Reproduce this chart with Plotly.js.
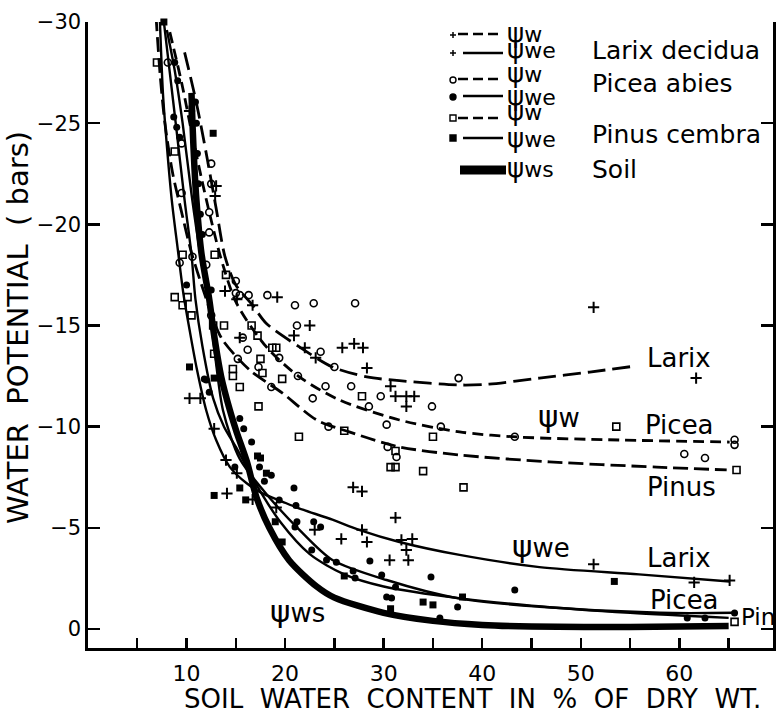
<!DOCTYPE html>
<html>
<head>
<meta charset="utf-8">
<script src="https://cdn.plot.ly/plotly-3.0.1.min.js"></script>
<style>html,body{margin:0;padding:0;background:#fff;}</style>
</head>
<body>
<div id="chart" style="width:777px;height:715px;"></div>
<script>
// ---------------- DATA ----------------
// Fitted curves
const larixWX  = [9.8, 11.0, 12.0, 13.0, 13.9, 15.0, 16.7, 18.1, 21.45, 24.8, 28.3, 31.6, 37.7, 40.7, 45.8, 50.9, 55.6];
const larixWY  = [-28.5, -26.0, -23.5, -20.8, -18.4, -17.0, -16.0, -15.1, -13.94, -12.95, -12.46, -12.27, -12.06, -12.1, -12.4, -12.7, -13.0];
const piceaWX  = [8.3, 9.5, 10.5, 11.5, 12.5, 13.5, 15.07, 18.1, 21.45, 25.5, 31.6, 37.7, 43.5, 53.9, 65.1];
const piceaWY  = [-29.5, -27.0, -24.6, -22.3, -20.2, -18.3, -16.1, -13.94, -12.46, -11.32, -10.33, -9.74, -9.49, -9.34, -9.24];
const pinusWX  = [6.9, 7.3, 7.8, 8.6, 9.4, 10.5, 11.8, 12.7, 13.65, 16.4, 19.7, 23.2, 26.5, 31.6, 37.7, 46.8, 57.7, 64.8];
const pinusWY  = [-30.3, -27.5, -25.0, -22.5, -20.8, -18.6, -16.6, -15.3, -14.29, -12.8, -11.67, -10.33, -9.74, -9.0, -8.6, -8.26, -8.0, -7.86];
const larixWEX = [7.3, 7.6, 7.9, 8.5, 9.1, 9.7, 10.3, 11.0, 12.0, 13.0, 14.4, 16.1, 17.7, 19.7, 21.2, 24.8, 27.5, 31.6, 37.7, 45.8, 55.9, 65.1];
const larixWEY = [-30.0, -26.5, -24.5, -21.2, -18.8, -16.5, -14.8, -12.95, -10.8, -9.34, -8.0, -7.2, -6.7, -6.3, -6.0, -5.4, -4.9, -4.3, -3.66, -3.06, -2.7, -2.35];
const piceaWEX = [8.0, 8.8, 9.6, 10.5, 11.4, 12.2, 12.9, 13.7, 15.4, 18.4, 21.45, 24.8, 30.3, 37.7, 45.8, 58.0, 65.6];
const piceaWEY = [-29.6, -27.6, -25.0, -21.5, -18.5, -16.3, -13.5, -10.8, -8.4, -6.5, -4.9, -3.41, -2.42, -1.5, -1.1, -0.8, -0.8];
const pinusWEX = [7.7, 8.3, 8.9, 9.8, 10.5, 10.9, 11.6, 12.7, 13.8, 15.0, 17.0, 19.5, 22.5, 26.0, 30.0, 38.0, 45.0, 55.0, 65.0];
const pinusWEY = [-30.0, -27.5, -25.0, -21.2, -18.5, -16.3, -14.0, -11.4, -10.0, -9.0, -7.2, -5.3, -3.7, -2.7, -2.1, -1.5, -1.15, -0.8, -0.55];
const soilX    = [10.5, 10.6, 10.8, 11.0, 11.5, 12.3, 12.8, 13.5, 14.4, 15.1, 16.1, 17.1, 18.4, 20.4, 23.2, 25.0, 30.0, 35.0, 40.0, 45.0, 55.0, 65.0];
const soilY    = [-26.5, -25.0, -22.8, -21.2, -18.6, -16.3, -14.5, -12.5, -10.8, -9.7, -8.3, -6.5, -5.0, -3.4, -2.1, -1.55, -0.8, -0.4, -0.2, -0.12, -0.1, -0.15];

// Measured points
const larixPtWX  = [10.3, 13.0, 12.9, 13.9, 15.1, 15.4, 16.7, 19.2, 20.9, 22.0, 22.5, 23.1, 25.8, 27.0, 27.9, 28.3, 30.7, 31.2, 32.3, 33.1, 32.3, 51.3, 61.7];
const larixPtWY  = [-25.6, -21.9, -21.4, -16.7, -16.3, -14.4, -16.0, -16.4, -14.5, -13.9, -15.0, -13.4, -13.9, -14.1, -13.9, -12.9, -12.0, -11.5, -11.5, -11.5, -11.0, -15.9, -12.4];
const larixPtWEX = [10.3, 11.4, 12.8, 14.0, 15.1, 14.1, 16.7, 19.1, 23.0, 25.7, 27.8, 28.3, 31.8, 32.9, 32.3, 30.6, 32.5, 26.9, 27.8, 31.2, 51.3, 61.5, 65.1];
const larixPtWEY = [-11.4, -11.4, -9.9, -8.35, -7.7, -6.7, -6.4, -6.0, -4.9, -4.45, -4.9, -4.3, -4.4, -4.45, -3.9, -3.4, -3.4, -7.0, -6.8, -5.5, -3.2, -2.3, -2.4];
const piceaPtWX  = [8.1, 9.5, 9.5, 12.5, 12.5, 12.3, 12.3, 10.6, 9.3, 12.0, 15.0, 15.0, 15.4, 16.3, 18.2, 21.0, 22.9, 27.1, 21.2, 15.7, 16.2, 19.4, 17.3, 15.2, 23.6, 25.0, 21.3, 18.6, 24.1, 26.7, 22.8, 28.5, 29.7, 34.9, 24.4, 30.3, 35.8, 37.6, 30.4, 31.3, 12.5, 43.3, 65.6, 65.6, 60.5, 62.6];
const piceaPtWY  = [-28.0, -24.0, -21.55, -23.0, -22.0, -20.6, -19.6, -18.4, -18.1, -18.0, -17.2, -16.6, -16.5, -16.5, -16.5, -16.0, -16.1, -16.1, -15.0, -14.4, -13.8, -13.4, -12.95, -13.35, -13.7, -12.95, -12.5, -11.96, -12.0, -12.0, -11.4, -11.0, -11.5, -11.0, -10.0, -10.1, -10.0, -12.4, -9.0, -8.5, -15.5, -9.5, -9.1, -9.35, -8.65, -8.45];
const piceaPtWEX = [8.8, 9.1, 10.9, 8.7, 9.0, 9.3, 11.0, 11.1, 11.2, 11.4, 11.6, 10.0, 12.5, 12.0, 12.3, 11.8, 14.9, 15.4, 15.8, 16.6, 17.4, 17.9, 18.6, 19.4, 20.9, 21.1, 21.2, 21.0, 22.9, 23.6, 22.7, 24.2, 25.2, 26.9, 27.1, 28.6, 29.8, 31.2, 30.3, 30.8, 34.8, 35.7, 37.5, 43.3, 60.8, 62.6, 65.6];
const piceaPtWEY = [-28.0, -27.1, -26.05, -25.3, -24.8, -24.3, -25.0, -23.5, -22.0, -20.5, -19.5, -17.0, -16.75, -12.3, -11.7, -12.36, -8.0, -10.4, -9.9, -9.24, -8.0, -7.3, -7.6, -6.38, -6.97, -6.1, -5.3, -5.04, -5.3, -5.04, -3.9, -3.41, -3.3, -2.87, -2.52, -3.36, -2.67, -2.08, -1.58, -1.53, -2.57, -0.54, -1.09, -1.93, -0.54, -0.54, -0.79];
const pinusPtWX  = [7.6, 7.0, 8.8, 9.6, 12.85, 14.0, 8.8, 10.1, 9.6, 10.5, 12.7, 13.8, 16.6, 17.2, 18.7, 19.1, 17.5, 17.7, 12.8, 14.7, 14.7, 15.4, 19.7, 17.3, 27.8, 26.0, 21.4, 31.2, 30.7, 31.2, 34.0, 35.0, 38.1, 53.6, 65.8, 65.6];
const pinusPtWY  = [-30.75, -28.0, -23.6, -18.5, -18.5, -17.5, -16.4, -16.4, -16.0, -15.5, -15.0, -15.0, -15.0, -14.5, -13.9, -13.9, -13.35, -12.65, -13.6, -12.85, -12.5, -11.96, -12.36, -11.0, -11.5, -9.8, -9.5, -8.8, -8.0, -8.0, -7.8, -9.5, -7.0, -10.0, -7.86, -0.35];
const pinusPtWEX = [7.7, 12.7, 10.3, 12.8, 12.8, 15.4, 16.0, 17.2, 17.5, 18.1, 19.0, 19.7, 26.0, 30.7, 34.0, 35.0, 38.0, 53.4];
const pinusPtWEY = [-30.0, -24.5, -12.95, -12.4, -6.6, -6.97, -6.38, -8.55, -8.45, -7.7, -5.3, -4.3, -2.62, -1.0, -1.33, -1.19, -1.58, -2.35];

// Axis ticks
const xTickVals = [5, 10, 15, 20, 25, 30, 35, 40, 45, 50, 55, 60, 65];
const xTickText = ['', '10', '', '20', '', '30', '', '40', '', '50', '', '60', ''];
const yTickVals = [-30, -25, -20, -15, -10, -5, 0];
const yTickText = ['\u221230', '\u221225', '\u221220', '\u221215', '\u221210', '\u22125', '0'];

// ---------------- LAYOUT HELPERS ----------------
const FONT = 'DejaVu Sans';
const W = 777, H = 715, ML = 88, MR = 4, MT = 22, MB = 67;
const PW = W - ML - MR, PH = H - MT - MB;
const PX = px => (px - ML) / PW;
const PY = py => (H - MB - py) / PH;
const PSI = (size, sub) => '<span style="font-size:' + size + 'px">\u03c8</span>' + sub;

function lineTrace(x, y, dash, width) {
  return {x: x, y: y, type: 'scatter', mode: 'lines', hoverinfo: 'skip',
    line: {color: '#000', width: width, dash: dash, shape: 'spline', smoothing: 0.8}};
}
function ptTrace(x, y, symbol, size, lw) {
  return {x: x, y: y, type: 'scatter', mode: 'markers', cliponaxis: false,
    marker: {symbol: symbol, size: size, color: '#000', line: {color: '#000', width: lw}}};
}

const traces = [
  lineTrace(larixWX, larixWY, '18px,7px', 2.8),
  lineTrace(piceaWX, piceaWY, '11px,6px', 2.8),
  lineTrace(pinusWX, pinusWY, '15px,6px', 2.8),
  lineTrace(larixWEX, larixWEY, 'solid', 2.4),
  lineTrace(piceaWEX, piceaWEY, 'solid', 2.4),
  lineTrace(pinusWEX, pinusWEY, 'solid', 2.4),
  lineTrace(soilX, soilY, 'solid', 6.5),
  ptTrace(larixPtWX, larixPtWY, 'cross-thin', 8, 2),
  ptTrace(larixPtWEX, larixPtWEY, 'cross-thin', 8, 2),
  ptTrace(piceaPtWX, piceaPtWY, 'circle-open', 7, 1.6),
  ptTrace(piceaPtWEX, piceaPtWEY, 'circle', 7, 0),
  ptTrace(pinusPtWX, pinusPtWY, 'square-open', 7, 1.6),
  ptTrace(pinusPtWEX, pinusPtWEY, 'square', 7, 0)
];

// ---------------- LEGEND (drawn with shapes + annotations) ----------------
const shapes = [];
const annotations = [];
function hline(x0, x1, y, w, dash) {
  shapes.push({type: 'line', xref: 'paper', yref: 'paper', x0: PX(x0), x1: PX(x1), y0: PY(y), y1: PY(y),
    line: {color: '#000', width: w, dash: dash || 'solid'}});
}
function legMarker(kind, cx, cy) {
  const r = 3;
  if (kind === 'plus') {
    shapes.push({type: 'line', xref: 'paper', yref: 'paper', x0: PX(cx - r), x1: PX(cx + r), y0: PY(cy), y1: PY(cy), line: {color: '#000', width: 1.5}});
    shapes.push({type: 'line', xref: 'paper', yref: 'paper', x0: PX(cx), x1: PX(cx), y0: PY(cy - r), y1: PY(cy + r), line: {color: '#000', width: 1.5}});
  } else {
    const filled = (kind === 'dot' || kind === 'fsq');
    shapes.push({type: (kind === 'circ' || kind === 'dot') ? 'circle' : 'rect', xref: 'paper', yref: 'paper',
      x0: PX(cx - r), x1: PX(cx + r), y0: PY(cy + r), y1: PY(cy - r),
      fillcolor: filled ? '#000' : 'rgba(0,0,0,0)', line: {color: '#000', width: 1.4}});
  }
}
function txt(text, px, py, size, anchor) {
  annotations.push({text: text, xref: 'paper', yref: 'paper', x: PX(px), y: PY(py),
    xanchor: anchor || 'left', yanchor: 'middle', showarrow: false,
    font: {family: FONT, size: size, color: '#000'}});
}
const legRows = [
  {m: 'plus', my: 35, ly: 34, dash: '10px,5px', x0: 458, lab: 'w', ty: 33},
  {m: 'plus', my: 53, ly: 53, dash: 'solid', x0: 463, lab: 'we', ty: 49},
  {m: 'circ', my: 80, ly: 79, dash: '10px,5px', x0: 458, lab: 'w', ty: 73},
  {m: 'dot',  my: 97, ly: 96, dash: 'solid', x0: 463, lab: 'we', ty: 96},
  {m: 'sq',   my: 118, ly: 118, dash: '10px,5px', x0: 458, lab: 'w', ty: 111},
  {m: 'fsq',  my: 138, ly: 138, dash: 'solid', x0: 463, lab: 'we', ty: 138}
];
legRows.forEach(r => {
  legMarker(r.m, 453, r.my);
  hline(r.x0, 503, r.ly, 2.4, r.dash);
  txt(PSI(26, r.lab), 505, r.ty, 22);
});
hline(460, 506, 170, 9);
txt(PSI(26, 'ws'), 505, 168, 22);
txt('Larix decidua', 590, 51, 25);
txt('Picea abies', 590, 84, 25);
txt('Pinus cembra', 590, 134, 25);
txt('Soil', 590, 170, 25);

// In-plot labels (data coordinates)
function dtxt(text, x, y, size) {
  annotations.push({text: text, x: x, y: y, xanchor: 'left', yanchor: 'middle', showarrow: false,
    font: {family: FONT, size: size || 26, color: '#000'}});
}
dtxt('Larix', 56.5, -13.4);
dtxt(PSI(31, 'w'), 45.5, -10.55);
dtxt('Picea', 56.3, -10.08);
dtxt('Pinus', 56.5, -7.02);
dtxt(PSI(31, 'we'), 42.8, -4.1);
dtxt('Larix', 56.5, -3.5);
dtxt('Picea', 56.8, -1.43);
dtxt('Pin', 66.1, -0.6, 23);
dtxt(PSI(31, 'ws'), 18.3, -0.9);

// Axis titles
annotations.push({text: 'SOIL\u00a0 WATER\u00a0 CONTENT\u00a0 IN\u00a0 %\u00a0 OF\u00a0 DRY\u00a0 WT.', xref: 'paper', yref: 'paper',
  x: PX(472), y: PY(699), xanchor: 'center', yanchor: 'middle', showarrow: false,
  font: {family: FONT, size: 26, color: '#000'}});
annotations.push({text: 'WATER\u00a0 POTENTIAL\u00a0 (\u00a0bars)', xref: 'paper', yref: 'paper',
  x: PX(18), y: PY(328), xanchor: 'center', yanchor: 'middle', textangle: -90, showarrow: false,
  font: {family: FONT, size: 29, color: '#000'}});

const layout = {
  width: W, height: H,
  margin: {l: ML, r: MR, t: MT, b: MB, pad: 0},
  paper_bgcolor: '#fff', plot_bgcolor: '#fff',
  showlegend: false,
  font: {family: FONT, color: '#000'},
  xaxis: {range: [0, 69.5], showgrid: false, zeroline: false, showline: true, linecolor: '#000', linewidth: 2.6,
    ticks: 'inside', ticklen: 10, tickwidth: 2.4, tickcolor: '#000',
    tickmode: 'array', tickvals: xTickVals, ticktext: xTickText, ticklabelstandoff: 4,
    tickfont: {family: FONT, size: 22, color: '#000'}, mirror: false},
  yaxis: {range: [0.94, -30], showgrid: false, zeroline: false, showline: true, linecolor: '#000', linewidth: 2.6,
    ticks: 'inside', ticklen: 12, tickwidth: 2.4, tickcolor: '#000', mirror: 'ticks',
    tickmode: 'array', tickvals: yTickVals, ticktext: yTickText,
    tickfont: {family: FONT, size: 21, color: '#000'}},
  shapes: shapes,
  annotations: annotations
};

Plotly.newPlot('chart', traces, layout, {displayModeBar: false, staticPlot: true});
</script>
</body>
</html>
